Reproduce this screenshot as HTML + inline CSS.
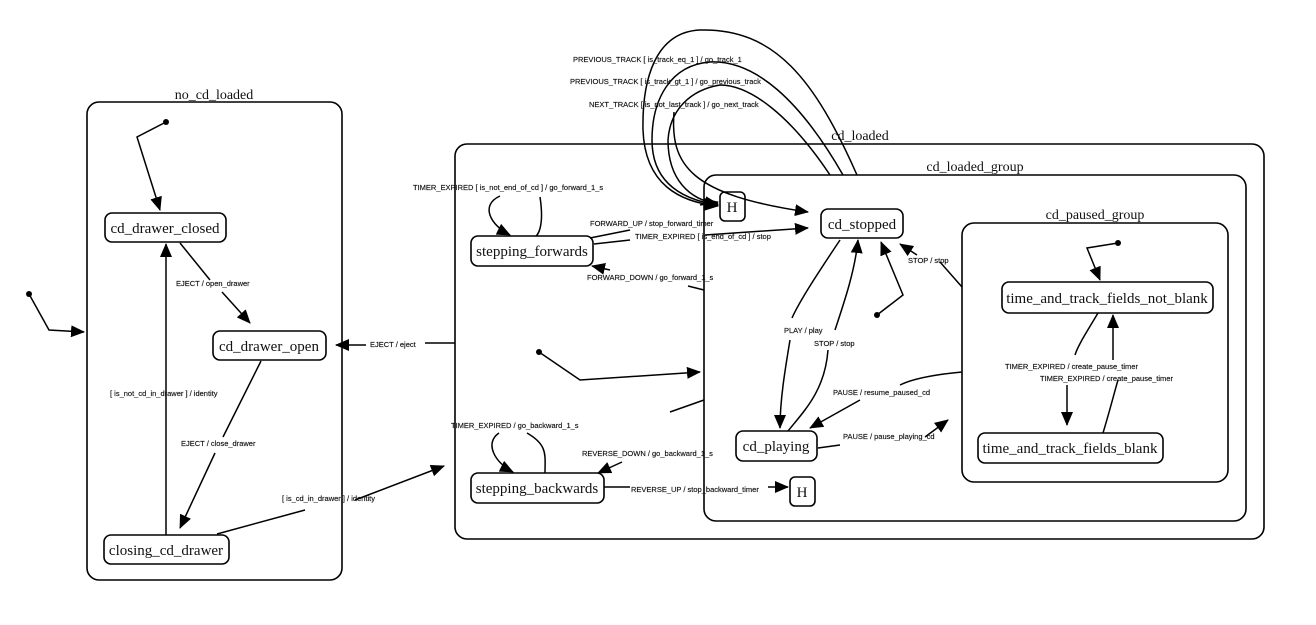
<!DOCTYPE html>
<html><head><meta charset="utf-8"><style>
html,body{margin:0;padding:0;background:#fff;}
svg{display:block}
.s{font-family:"Liberation Serif",serif;font-size:15px;fill:#111}
.c{font-family:"Liberation Serif",serif;font-size:14px;fill:#111}
.l{font-family:"Liberation Sans",sans-serif;font-size:7.5px;fill:#111;stroke:#111;stroke-width:0.15}
</style></head><body>
<svg width="1316" height="625" viewBox="0 0 1316 625" xmlns="http://www.w3.org/2000/svg">
<defs><marker id="a" viewBox="0 0 14 12" refX="13" refY="6" markerWidth="14" markerHeight="12" markerUnits="userSpaceOnUse" orient="auto"><path d="M0,0 L14,6 L0,12 z" fill="#000"/></marker></defs>
<g fill="none" stroke="#000" stroke-width="1.6">
<rect x="87" y="102" width="255" height="478" rx="12"/>
<rect x="455" y="144" width="809" height="395" rx="12"/>
<rect x="704" y="175" width="542" height="346" rx="12"/>
<rect x="962" y="223" width="266" height="259" rx="12"/>
<rect x="105" y="213" width="121" height="29" rx="7"/>
<rect x="213" y="331" width="113" height="29" rx="7"/>
<rect x="104" y="535" width="125" height="29" rx="7"/>
<rect x="471" y="236" width="122" height="30" rx="7"/>
<rect x="471" y="473" width="133" height="30" rx="7"/>
<rect x="720" y="192" width="25" height="29" rx="5"/>
<rect x="790" y="477" width="25" height="29" rx="5"/>
<rect x="821" y="209" width="82" height="29" rx="7"/>
<rect x="736" y="431" width="81" height="30" rx="7"/>
<rect x="1002" y="282" width="211" height="31" rx="7"/>
<rect x="978" y="433" width="185" height="30" rx="7"/>
</g>
<g fill="#000"><circle cx="166" cy="122" r="3"/><circle cx="29" cy="294" r="3"/><circle cx="539" cy="352" r="3"/><circle cx="877" cy="315" r="3"/><circle cx="1118" cy="243" r="3"/></g>
<g fill="none" stroke="#000" stroke-width="1.5" marker-end="url(#a)">
<polyline points="166,122 137,137 160,210"/>
<polyline points="29,294 49,330 84,332"/>
<polyline points="539,352 580,380 700,372"/>
<polyline points="877,315 903,295 881,242"/>
<polyline points="1118,243 1087,248 1100,280"/>
<path d="M180,243 L210,280 M222,292 L250,323"/>
<path d="M166,535 L166,244"/>
<path d="M261,361 L223,437 M215,453 L180,528"/>
<path d="M217,534 L305,510 M355,500 L444,466"/>
<path d="M455,343 L425,343 M366,345 L336,345"/>
<path d="M540,197 C545,230 536,236 536,236 M500,196 C480,205 490,225 510,235"/>
<path d="M590,238 L630,230 M700,205 L718,202"/>
<path d="M594,244 L630,240 M705,235 L808,228"/>
<path d="M704,290 L688,286 M610,270 L592,266"/>
<path d="M704,400 L670,412 M622,462 L598,473"/>
<path d="M545,473 C545,455 548,445 527,433 M499,433 C484,443 495,463 513,472"/>
<path d="M604,487 L630,487 M768,487 L788,487"/>
<path d="M674,112 C670,165 690,195 808,212"/>
<path d="M830,175 C790,115 750,85 720,85 C690,90 670,110 668,140 C668,180 690,200 718,204"/>
<path d="M843,175 C800,100 755,60 710,62 C670,65 652,100 652,140 C652,185 685,200 718,205"/>
<path d="M857,175 C815,80 775,28 700,30 C655,32 642,80 643,130 C645,185 680,202 718,206"/>
<path d="M840,240 C820,270 800,300 792,318 M790,340 C785,370 780,400 780,428"/>
<path d="M788,431 C805,410 825,390 828,350 M835,330 C845,300 855,270 858,240"/>
<path d="M962,287 L940,262 M917,255 L900,244"/>
<path d="M962,372 C930,375 910,380 900,385 M860,400 L810,428"/>
<path d="M818,448 L840,445 M925,437 L948,420"/>
<path d="M1098,313 C1088,330 1078,345 1075,355 M1067,385 L1067,425"/>
<path d="M1103,433 C1110,410 1115,390 1118,380 M1113,360 L1113,315"/>
</g>
<g class="c" text-anchor="middle">
<text x="214" y="99">no_cd_loaded</text>
<text x="860" y="140">cd_loaded</text>
<text x="975" y="171">cd_loaded_group</text>
<text x="1095" y="219">cd_paused_group</text>
</g>
<g class="s" text-anchor="middle">
<text x="165" y="233">cd_drawer_closed</text>
<text x="269" y="351">cd_drawer_open</text>
<text x="166" y="555">closing_cd_drawer</text>
<text x="532" y="256">stepping_forwards</text>
<text x="537" y="493">stepping_backwards</text>
<text x="732" y="212">H</text>
<text x="802" y="497">H</text>
<text x="862" y="229">cd_stopped</text>
<text x="776" y="451">cd_playing</text>
<text x="1107" y="303">time_and_track_fields_not_blank</text>
<text x="1070" y="453">time_and_track_fields_blank</text>
</g>
<g class="l">
<text x="176" y="286">EJECT  / open_drawer</text>
<text x="110" y="396">[ is_not_cd_in_drawer ] / identity</text>
<text x="181" y="446">EJECT  / close_drawer</text>
<text x="282" y="501">[ is_cd_in_drawer ] / identity</text>
<text x="370" y="347">EJECT  / eject</text>
<text x="413" y="190">TIMER_EXPIRED [ is_not_end_of_cd ] / go_forward_1_s</text>
<text x="590" y="226">FORWARD_UP  / stop_forward_timer</text>
<text x="635" y="239">TIMER_EXPIRED [ is_end_of_cd ] / stop</text>
<text x="587" y="280">FORWARD_DOWN  / go_forward_1_s</text>
<text x="573" y="62">PREVIOUS_TRACK [ is_track_eq_1 ] / go_track_1</text>
<text x="570" y="84">PREVIOUS_TRACK [ is_track_gt_1 ] / go_previous_track</text>
<text x="589" y="107">NEXT_TRACK [ is_not_last_track ] / go_next_track</text>
<text x="451" y="428">TIMER_EXPIRED  / go_backward_1_s</text>
<text x="582" y="456">REVERSE_DOWN  / go_backward_1_s</text>
<text x="631" y="492">REVERSE_UP  / stop_backward_timer</text>
<text x="784" y="333">PLAY  / play</text>
<text x="814" y="346">STOP  / stop</text>
<text x="908" y="263">STOP  / stop</text>
<text x="833" y="395">PAUSE  / resume_paused_cd</text>
<text x="843" y="439">PAUSE  / pause_playing_cd</text>
<text x="1005" y="369">TIMER_EXPIRED  / create_pause_timer</text>
<text x="1040" y="381">TIMER_EXPIRED  / create_pause_timer</text>
</g>
</svg>
</body></html>
